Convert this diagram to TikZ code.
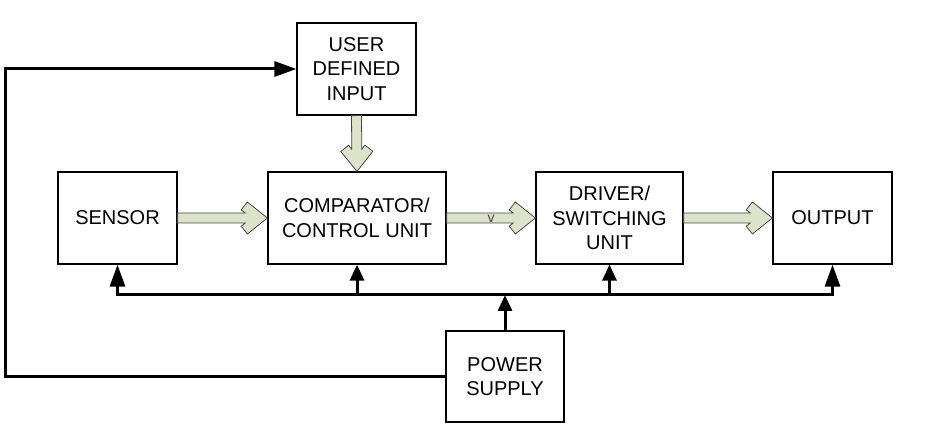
\documentclass[tikz,border=0pt]{standalone}
\usepackage{fontspec}
\setmainfont{Liberation Sans}
\usepackage{tikz}
\usetikzlibrary{arrows.meta,calc}

\definecolor{arrowfill}{RGB}{221,227,203}
\definecolor{arrowedge}{RGB}{70,70,70}

\newcommand{\headpt}[3]{($($(\tikztotarget)!#1!(\tikztostart)$)!#2!#3:(\tikztotarget)$)}

\tikzset{
  block/.style={draw, line width=1.2pt, align=center, minimum width=119pt, minimum height=92pt,
    font=\fontsize{20}{24.5}\selectfont},
  wire/.style={line width=3pt},
  longtip/.style={-{Triangle[length=22pt,width=15pt]}},
  shorttip/.style={-{Triangle[length=16pt,width=14pt]}},
  hollow/.style={fill=arrowfill, draw=arrowedge, line width=0.8pt, line join=miter,
    to path={($(\tikztostart)!5pt!90:(\tikztotarget)$) -- \headpt{22.2pt}{5pt}{90}
      -- \headpt{26.2pt}{8.2pt}{90} -- \headpt{20pt}{16pt}{90} -- (\tikztotarget)
      -- \headpt{20pt}{16pt}{-90} -- \headpt{26.2pt}{8.2pt}{-90} -- \headpt{22.2pt}{5pt}{-90}
      -- ($(\tikztostart)!5pt!-90:(\tikztotarget)$) -- cycle}}
}

\begin{document}
\begin{tikzpicture}[x=1pt,y=-1pt]
\useasboundingbox (0,0) rectangle (927,430);

\node[block] (sensor) at (117.5,218) {SENSOR};
\node[block, minimum width=178pt] (comp) at (357,218) {COMPARATOR/\\CONTROL UNIT};
\node[block, minimum width=147pt] (driver) at (609.5,218) {DRIVER/\\SWITCHING\\UNIT};
\node[block] (output) at (832.5,218) {OUTPUT};
\node[block] (user) at (356.5,69) {USER\\DEFINED\\INPUT};
\node[block, minimum width=118pt, minimum height=91pt] (power) at (505,376.5) {POWER\\SUPPLY};

\coordinate (bus) at (505,295);
\coordinate (loop) at (5,0);

% signal path
\draw[hollow] (sensor.east) to (comp.west);
\draw[hollow] (comp.east) to (driver.west);
\draw[hollow] (driver.east) to (output.west);
\draw[hollow] (user.south) to (comp.north);
\node[text=arrowedge, font=\fontsize{14}{14}\selectfont, inner sep=0pt] (vlab) at ($(comp.east)!0.5!(driver.west)+(0,1)$) {v};

% supply bus
\draw[wire, {Triangle[length=22pt,width=15pt]}-{Triangle[length=22pt,width=15pt]}] (sensor.south) -- (sensor.south |- bus) -- (output.south |- bus) -- (output.south);
\draw[wire, shorttip] (comp.south |- bus) -- (comp.south);
\draw[wire, shorttip] (driver.south |- bus) -- (driver.south);
\draw[wire, shorttip] (power.north) -- (bus);

% feedback to user input
\draw[wire, longtip] (power.west) -- (loop |- power.west) -- (loop |- user.west) -- (user.west);

\end{tikzpicture}
\end{document}
